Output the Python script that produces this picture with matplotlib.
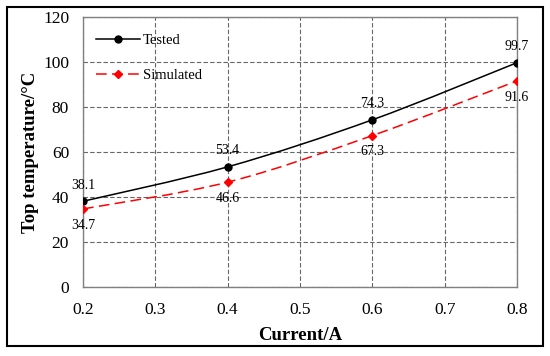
import numpy as np
import matplotlib
matplotlib.use("Agg")
import matplotlib.pyplot as plt
from matplotlib.path import Path
from matplotlib.patches import PathPatch, Rectangle

plt.rcParams['font.family'] = ['Liberation Serif', 'DejaVu Serif']

# Data
current = [0.2, 0.4, 0.6, 0.8]
tested = [38.1, 53.4, 74.3, 99.7]
simulated = [34.7, 46.6, 67.3, 91.6]
x_ticks = [0.2, 0.3, 0.4, 0.5, 0.6, 0.7, 0.8]
y_ticks = [0, 20, 40, 60, 80, 100, 120]


def smooth_path(x, y):
    # Excel-style smoothed line: Catmull-Rom segments as cubic Beziers
    x = np.asarray(x, float)
    y = np.asarray(y, float)
    pts = np.column_stack((x, y))
    verts = [pts[0]]
    codes = [Path.MOVETO]
    n = len(pts)
    for i in range(n - 1):
        p0 = pts[i - 1] if i > 0 else pts[i]
        p1 = pts[i]
        p2 = pts[i + 1]
        p3 = pts[i + 2] if i + 2 < n else pts[i + 1]
        c1 = p1 + (p2 - p0) / 6.0
        c2 = p2 - (p3 - p1) / 6.0
        verts += [c1, c2, p2]
        codes += [Path.CURVE4] * 3
    return Path(verts, codes)


fig = plt.figure(figsize=(5.5, 3.56), dpi=100)
ax = fig.add_axes([83 / 550, 1 - 287 / 356, 434 / 550, 270 / 356])

red_dash = (0, (7, 3.5))
ax.add_patch(PathPatch(smooth_path(current, tested), fill=False,
                       edgecolor='black', lw=1.1, zorder=3))
ax.add_patch(PathPatch(smooth_path(current, simulated), fill=False,
                       edgecolor='#ff0000', lw=1.1, ls=red_dash, zorder=3))
ax.plot(current, tested, ls='none', marker='o', color='black', ms=5, zorder=4)
ax.plot(current, simulated, ls='none', marker='D', color='#ff0000', ms=4, zorder=4)

# legend proxies
ax.plot([], [], color='black', lw=1.1, marker='o', ms=5, label='Tested')
ax.plot([], [], color='#ff0000', lw=1.1, ls=red_dash, marker='D', ms=4,
        label='Simulated')
ax.legend(loc='upper left', frameon=False, fontsize=10.5, handlelength=3,
          labelspacing=1.45, bbox_to_anchor=(0.0, 0.985), borderaxespad=0.5,
          handletextpad=0.2)

for xv, yv in zip(current, tested):
    ax.annotate(f"{yv:.1f}", (xv, yv), xytext=(0, 7), textcoords='offset points',
                ha='center', va='bottom', fontsize=10)
for xv, yv in zip(current, simulated):
    ax.annotate(f"{yv:.1f}", (xv, yv), xytext=(0, -7), textcoords='offset points',
                ha='center', va='top', fontsize=10)

ax.set_xlim(0.2, 0.8)
ax.set_ylim(0, 120)
ax.set_xticks(x_ticks)
ax.set_yticks(y_ticks)
ax.set_xticklabels([f"{v:.1f}" for v in x_ticks])
ax.tick_params(length=0, labelsize=12.5)
ax.tick_params(axis='x', pad=11)
ax.tick_params(axis='y', pad=10)
ax.grid(True, color='#666666', ls=(0, (4, 2)), lw=0.8)
for s in ax.spines.values():
    s.set_color('#808080')
    s.set_linewidth(1.0)

ax.set_xlabel('Current/A', fontsize=13.5, fontweight='bold', labelpad=6)
ax.set_ylabel('Top temperature/°C', fontsize=13.5, fontweight='bold', labelpad=3)

fig.patches.append(Rectangle((7 / 550, 10 / 356), 536 / 550, 339 / 356,
                             transform=fig.transFigure, fill=False,
                             edgecolor='black', lw=1.5))

fig.savefig('out.png', dpi=100)
